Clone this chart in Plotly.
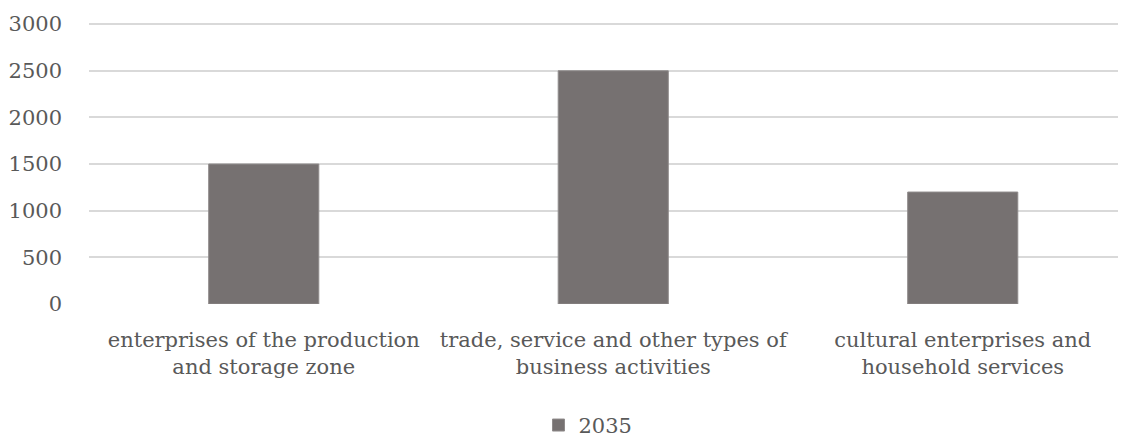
import plotly.graph_objects as go

categories = [
    "enterprises of the production<br>and storage zone",
    "trade, service and other types of<br>business activities",
    "cultural enterprises and<br>household services",
]
values_2035 = [1500, 2500, 1200]
series_name = "2035"
y_ticks = [0, 500, 1000, 1500, 2000, 2500, 3000]

FONT = "DejaVu Serif"
TXT = "#595959"
FS = 21

fig = go.Figure()
fig.add_trace(go.Bar(
    x=categories, y=values_2035, name=series_name,
    marker=dict(color="#767171", line=dict(color="#8f8b8b", width=1)),
    showlegend=True,
))

fig.update_layout(
    width=1126, height=438,
    margin=dict(l=81, r=0, t=15, b=142, autoexpand=False),
    paper_bgcolor="white", plot_bgcolor="white",
    font=dict(family=FONT, size=FS, color=TXT),
    bargap=0.685,
    showlegend=True,
    legend=dict(orientation="h", x=0.4775, xanchor="center", y=-0.432, yanchor="middle",
                font=dict(family=FONT, size=FS, color=TXT), itemwidth=30),
    xaxis=dict(range=[-0.5, 2.49], showgrid=False, zeroline=False, showline=False, automargin=False,
               ticks="", tickfont=dict(family=FONT, size=FS, color=TXT), ticklabelstandoff=21),
    yaxis=dict(range=[0, 3012], tickvals=y_ticks, showgrid=True, gridcolor="#d9d9d9", gridwidth=2,
               zeroline=False, showline=False, ticks="", ticklabelstandoff=26, automargin=False,
               tickfont=dict(family=FONT, size=FS, color=TXT)),
)
fig.write_html("out.html")
